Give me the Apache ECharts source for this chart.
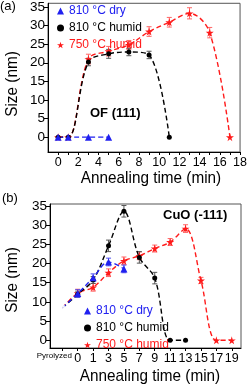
<!DOCTYPE html>
<html><head><meta charset="utf-8">
<script src="https://cdn.jsdelivr.net/npm/echarts@6/dist/echarts.min.js"></script>
<style>html,body{margin:0;padding:0;background:#fff}#c{width:250px;height:385px}</style>
</head><body><div id="c"></div>
<script>
// ---------- Panel (a): OF (111) ----------
const timesA_dry = [0, 1, 3, 5];
const sizeA_dry = [0, 0, 0, 0];
const timesA_h810 = [0, 1, 3, 5, 7, 9, 11];
const sizeA_h810 = [0, 0, 20.2, 22.4, 22.9, 22.1, 0];
const errA_h810 = [0, 0, 1.0, 1.2, 1.0, 1.0, 0];
const timesA_h750 = [0, 1, 3, 5, 7, 9, 11, 13, 15, 17];
const sizeA_h750 = [0, 0, 21.0, 23.1, 24.8, 28.4, 30.9, 33.3, 28.1, 0];
const errA_h750 = [0, 0, 1.3, 1.3, 1.2, 1.3, 1.3, 1.5, 1.4, 0];
const xTicksA = [0, 2, 4, 6, 8, 10, 12, 14, 16, 18];
const yTicks = [0, 5, 10, 15, 20, 25, 30, 35];

// ---------- Panel (b): CuO (-111) ----------
const xCatsB = ['Pyrolyzed', '0', '1', '3', '5', '7', '9', '11', '13', '15', '17', '19'];
const pyrolyzedB = 8.4;
const timesB_dry = ['0', '1', '3', '5'];
const sizeB_dry = [12.2, 16.3, 20.4, 18.6];
const errB_dry = [1.0, 1.0, 1.0, 1.0];
const timesB_h810 = ['0', '1', '3', '5', '7', '9', '11', '13'];
const sizeB_h810 = [12.0, 15.7, 24.6, 33.6, 21.6, 16.2, 0, 0];
const errB_h810 = [0.8, 0.9, 1.5, 1.5, 1.5, 1.5, 0, 0];
const timesB_h750 = ['0', '1', '3', '5', '7', '9', '11', '13', '15', '17', '19'];
const sizeB_h750 = [12.3, 13.8, 17.6, 20.7, 22.0, 23.9, 25.6, 29.1, 15.6, 0, 0];
const errB_h750 = [1.0, 1.0, 1.0, 1.0, 1.0, 0.9, 0.9, 1.0, 0.8, 0, 0];

const names = ['810 °C dry', '810 °C humid', '750 °C humid'];
const colors = ['#2020f0', '#000000', '#ff1a1a'];
const errColors = ['#5050f0', '#555555', '#ff6666'];
const STAR = 'path://M50,0 L61,35 L98,35 L68,57 L79,91 L50,70 L21,91 L32,57 L2,35 L39,35 Z';
const symbols = ['triangle', 'circle', STAR];
const symSizes = [7, 5, 8];
const FR = "'Liberation Sans', Arial, sans-serif";

function pts(xs, ys) { return xs.map((x, i) => [x, ys[i]]); }
function ptsB(labels, ys) {
  return [{ value: [0, pyrolyzedB], symbol: 'none' }].concat(labels.map((l, i) => [xCatsB.indexOf(l), ys[i]]));
}
function lineSeries(k, gi, data) {
  return {
    type: 'line', name: names[k], xAxisIndex: gi, yAxisIndex: gi, data: data,
    smooth: 0.35, symbol: symbols[k], symbolSize: symSizes[k], z: 4,
    itemStyle: { color: colors[k] },
    lineStyle: { color: colors[k], width: 1.4, type: [5, 3] }
  };
}
function errSeries(k, gi, data, errs) {
  const d = [];
  data.forEach((p, i) => { if (errs[i] > 0) d.push([p[0], p[1] - errs[i], p[1] + errs[i]]); });
  return {
    type: 'custom', xAxisIndex: gi, yAxisIndex: gi, silent: true, z: 3, data: d,
    encode: { x: 0, y: [1, 2] },
    renderItem: function (params, api) {
      const x = api.value(0);
      const lo = api.coord([x, api.value(1)]);
      const hi = api.coord([x, api.value(2)]);
      const w = 2.5, st = { stroke: errColors[k], lineWidth: 1 };
      return { type: 'group', children: [
        { type: 'line', shape: { x1: lo[0], y1: lo[1], x2: hi[0], y2: hi[1] }, style: st },
        { type: 'line', shape: { x1: lo[0] - w, y1: lo[1], x2: lo[0] + w, y2: lo[1] }, style: st },
        { type: 'line', shape: { x1: hi[0] - w, y1: hi[1], x2: hi[0] + w, y2: hi[1] }, style: st }
      ] };
    }
  };
}

const aDry = pts(timesA_dry, sizeA_dry), aH810 = pts(timesA_h810, sizeA_h810), aH750 = pts(timesA_h750, sizeA_h750);
const bDryPts = timesB_dry.map((l, i) => [xCatsB.indexOf(l), sizeB_dry[i]]);
const bH810Pts = timesB_h810.map((l, i) => [xCatsB.indexOf(l), sizeB_h810[i]]);
const bH750Pts = timesB_h750.map((l, i) => [xCatsB.indexOf(l), sizeB_h750[i]]);

const axisCommon = {
  axisLine: { show: true, onZero: false, lineStyle: { color: '#000', width: 1 } },
  splitLine: { show: false },
};
function yAxis(gi, min, max) {
  return Object.assign({}, axisCommon, {
    type: 'value', gridIndex: gi, min: min, max: max,
    axisTick: { show: true, inside: false, length: 4, customValues: yTicks, lineStyle: { color: '#000' } },
    axisLabel: { customValues: yTicks, fontFamily: FR, fontSize: 13.5, color: '#000', margin: 3, hideOverlap: false }
  });
}

const legendData = names.map((n, k) => ({ name: n, icon: symbols[k], textStyle: { color: colors[k] } }));

const option = {
  animation: false,
  grid: [
    { left: 48, top: 3, width: 194, height: 149, show: true, borderColor: '#555', borderWidth: 1 },
    { left: 50, top: 204, width: 191, height: 144, show: true, borderColor: '#555', borderWidth: 1 }
  ],
  xAxis: [
    Object.assign({}, axisCommon, {
      type: 'value', gridIndex: 0, min: -1, max: 18,
      axisTick: { show: true, length: 3, customValues: [0,1,2,3,4,5,6,7,8,9,10,11,12,13,14,15,16,17,18], lineStyle: { color: '#000' } },
      axisLabel: { customValues: xTicksA, fontFamily: FR, fontSize: 12.5, color: '#000', margin: 4, hideOverlap: false, showMinLabel: true, showMaxLabel: true }
    }),
    Object.assign({}, axisCommon, {
      type: 'value', gridIndex: 1, min: -0.8, max: 11.6,
      axisTick: { show: true, length: 3, customValues: xCatsB.map((c, i) => i), lineStyle: { color: '#000' } },
      axisLabel: {
        customValues: xCatsB.map((c, i) => i), fontFamily: FR, fontSize: 12.5, color: '#000', margin: 4,
        hideOverlap: false, showMinLabel: true, showMaxLabel: true,
        formatter: function (v) { return v === 0 ? '{p|' + xCatsB[0] + '}' : xCatsB[v]; },
        rich: { p: { fontFamily: FR, fontSize: 8, color: '#000', padding: [0, 16, 0, 0] } }
      }
    })
  ],
  yAxis: [yAxis(0, -4, 36), yAxis(1, -2, 35.5)],
  legend: [
    { left: 52, top: 0, orient: 'vertical', itemWidth: 7, itemHeight: 7, itemGap: 5, selectedMode: false,
      textStyle: { fontFamily: FR, fontSize: 12 }, data: legendData },
    { left: 79, top: 300, orient: 'vertical', itemWidth: 7, itemHeight: 7, itemGap: 5, selectedMode: false,
      textStyle: { fontFamily: FR, fontSize: 12 }, data: legendData }
  ],
  graphic: [
    { type: 'text', left: 0, top: 0, style: { text: '(a)', font: '13px ' + FR, fill: '#000' } },
    { type: 'text', left: 2, top: 192, style: { text: '(b)', font: '13px ' + FR, fill: '#000' } },
    { type: 'text', x: 90, y: 113, style: { text: 'OF (111)', font: 'bold 13px ' + FR, fill: '#000', verticalAlign: 'middle' } },
    { type: 'text', x: 163, y: 215, style: { text: 'CuO (-111)', font: 'bold 13px ' + FR, fill: '#000', verticalAlign: 'middle' } },
    { type: 'text', x: 151, y: 178, scaleX: 0.9, style: { text: 'Annealing time (min)', font: '17px ' + FR, fill: '#000', align: 'center', verticalAlign: 'middle' } },
    { type: 'text', x: 150, y: 376, scaleX: 0.9, style: { text: 'Annealing time (min)', font: '17px ' + FR, fill: '#000', align: 'center', verticalAlign: 'middle' } },
    { type: 'text', x: 12, y: 84, rotation: Math.PI / 2, scaleX: 0.9, style: { text: 'Size (nm)', font: '17px ' + FR, fill: '#000', align: 'center', verticalAlign: 'middle' } },
    { type: 'text', x: 12, y: 280, rotation: Math.PI / 2, scaleX: 0.9, style: { text: 'Size (nm)', font: '17px ' + FR, fill: '#000', align: 'center', verticalAlign: 'middle' } }
  ],
  series: [
    errSeries(2, 0, aH750, errA_h750),
    errSeries(1, 0, aH810, errA_h810),
    lineSeries(2, 0, aH750),
    lineSeries(1, 0, aH810),
    lineSeries(0, 0, aDry),
    errSeries(2, 1, bH750Pts, errB_h750),
    errSeries(1, 1, bH810Pts, errB_h810),
    errSeries(0, 1, bDryPts, errB_dry),
    lineSeries(2, 1, ptsB(timesB_h750, sizeB_h750)),
    lineSeries(1, 1, ptsB(timesB_h810, sizeB_h810)),
    lineSeries(0, 1, ptsB(timesB_dry, sizeB_dry)),
    { type: 'scatter', xAxisIndex: 1, yAxisIndex: 1, z: 5, symbol: 'emptyCircle', symbolSize: 5,
      itemStyle: { color: '#fff', borderColor: '#22aa22', borderWidth: 1 }, data: [[0, pyrolyzedB]] }
  ]
};
echarts.init(document.getElementById('c'), null, { renderer: 'canvas' }).setOption(option);
</script></body></html>
